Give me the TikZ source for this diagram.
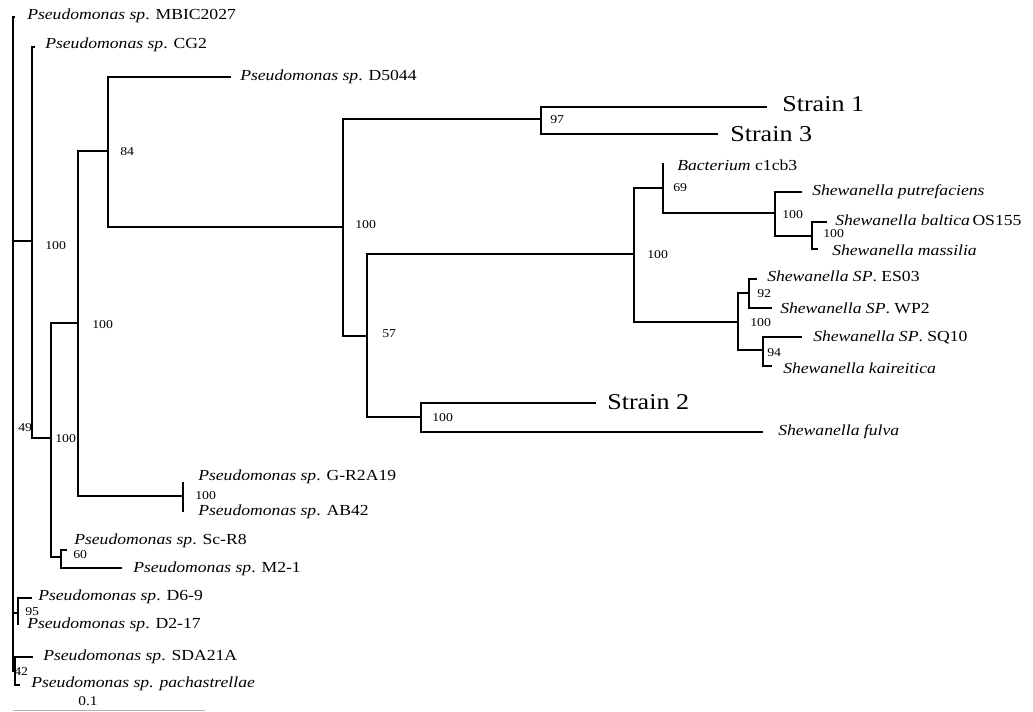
\documentclass[tikz,border=0pt]{standalone}
\usepackage{fontspec}
\usepackage{tikz}
\usetikzlibrary{positioning}
\newfontfamily\treefont[FakeStretch=1.15]{Liberation Serif}

\tikzset{
branch/.style={line width=0.9pt},
leaf/.style={anchor=west,inner sep=0pt,font=\treefont\fontsize{11.5}{12}\selectfont},
strain/.style={anchor=west,inner sep=0pt,font=\treefont\fontsize{17}{18}\selectfont},
boot/.style={anchor=west,inner sep=0pt,font=\treefont\fontsize{9}{10}\selectfont},
}

\begin{document}
\begin{tikzpicture}[x=0.75pt,y=-0.75pt]
\useasboundingbox[fill=white] (0,0) rectangle (1033,712);

% inner nodes
\coordinate (r) at (13,428);
\coordinate (nA) at (32,241);
\coordinate (nB) at (51,438);
\coordinate (nC) at (78,323);
\coordinate (nD) at (108,151);
\coordinate (nE) at (343,227);
\coordinate (nS) at (541,119);
\coordinate (nF) at (367,336);
\coordinate (nH) at (421,417);
\coordinate (nG) at (634,254);
\coordinate (nI) at (663,188);
\coordinate (nK) at (775,213);
\coordinate (nL) at (812,236);
\coordinate (nJ) at (738,322);
\coordinate (nM) at (749,293);
\coordinate (nN) at (763,350);
\coordinate (nGR) at (183,496);
\coordinate (nSc) at (61,557);
\coordinate (nDD) at (18,613);
\coordinate (nSD) at (15,671);

% leaf ends
\coordinate (lMBIC) at (15,17);
\coordinate (lCG) at (35,47);
\coordinate (lD50) at (231,77);
\coordinate (lSt1) at (767,107);
\coordinate (lSt3) at (718,134);
\coordinate (lBac) at (663,163);
\coordinate (lPut) at (802,192);
\coordinate (lBal) at (827,222);
\coordinate (lMas) at (818,249);
\coordinate (lES) at (757,279);
\coordinate (lWP) at (772,308);
\coordinate (lSQ) at (802,337);
\coordinate (lKai) at (772,366);
\coordinate (lSt2) at (596,403);
\coordinate (lFul) at (763,432);
\coordinate (lGR) at (183,482);
\coordinate (lAB) at (183,512);
\coordinate (lSc) at (67,550);
\coordinate (lM2) at (122,568);
\coordinate (lD69) at (32,598);
\coordinate (lD217) at (18,625);
\coordinate (lSDA) at (33,657);
\coordinate (lPac) at (20,685);

% branches
\draw[branch] (r) |- (lMBIC);
\draw[branch] (r) |- (nA);
\draw[branch,line width=1.6pt] (r |- nA) -- (r |- nSD);
\draw[branch] (r) |- (nDD);
\draw[branch] (r) |- (nSD);
\draw[branch] (nA) |- (lCG);
\draw[branch] (nA) |- (nB);
\draw[branch] (nB) |- (nC);
\draw[branch] (nB) |- (nSc);
\draw[branch] (nC) |- (nD);
\draw[branch] (nC) |- (nGR);
\draw[branch] (nD) |- (lD50);
\draw[branch] (nD) |- (nE);
\draw[branch] (nE) |- (nS);
\draw[branch] (nE) |- (nF);
\draw[branch] (nS) |- (lSt1);
\draw[branch] (nS) |- (lSt3);
\draw[branch] (nF) |- (nG);
\draw[branch] (nF) |- (nH);
\draw[branch] (nH) |- (lSt2);
\draw[branch] (nH) |- (lFul);
\draw[branch] (nG) |- (nI);
\draw[branch] (nG) |- (nJ);
\draw[branch] (nI) |- (lBac);
\draw[branch] (nI) |- (nK);
\draw[branch] (nK) |- (lPut);
\draw[branch] (nK) |- (nL);
\draw[branch] (nL) |- (lBal);
\draw[branch] (nL) |- (lMas);
\draw[branch] (nJ) |- (nM);
\draw[branch] (nJ) |- (nN);
\draw[branch] (nM) |- (lES);
\draw[branch] (nM) |- (lWP);
\draw[branch] (nN) |- (lSQ);
\draw[branch] (nN) |- (lKai);
\draw[branch] (nGR) |- (lGR);
\draw[branch] (nGR) |- (lAB);
\draw[branch] (nSc) |- (lSc);
\draw[branch] (nSc) |- (lM2);
\draw[branch] (nDD) |- (lD69);
\draw[branch] (nDD) |- (lD217);
\draw[branch] (nSD) |- (lSDA);
\draw[branch] (nSD) |- (lPac);

% taxa
\node[leaf] (tMBIC) at (27,16) {\textit{Pseudomonas sp}. MBIC2027};
\node[leaf] (tCG) at (45,45) {\textit{Pseudomonas sp}. CG2};
\node[leaf] (tD50) at (240,77) {\textit{Pseudomonas sp}. D5044};
\node[strain] (tSt1) at (782,104) {Strain 1};
\node[strain] (tSt3) at (730,134) {Strain 3};
\node[leaf] (tBac) at (677,165) {\textit{Bacterium} c1cb3};
\node[leaf] (tPut) at (812,192) {\textit{Shewanella putrefaciens}};
\node[leaf] (tBal) at (835,220) {\textit{Shewanella baltica}\,OS155};
\node[leaf] (tMas) at (832,250) {\textit{Shewanella massilia}};
\node[leaf] (tES) at (767,276) {\textit{Shewanella SP}. ES03};
\node[leaf] (tWP) at (780,308) {\textit{Shewanella SP}. WP2};
\node[leaf] (tSQ) at (813,337) {\textit{Shewanella SP}. SQ10};
\node[leaf] (tKai) at (783,368) {\textit{Shewanella kaireitica}};
\node[strain] (tSt2) at (607,402) {Strain 2};
\node[leaf] (tFul) at (778,432) {\textit{Shewanella fulva}};
\node[leaf] (tGR) at (198,477) {\textit{Pseudomonas sp}. G-R2A19};
\node[leaf] (tAB) at (198,512) {\textit{Pseudomonas sp}. AB42};
\node[leaf] (tSc) at (74,541) {\textit{Pseudomonas sp}. Sc-R8};
\node[leaf] (tM2) at (133,569) {\textit{Pseudomonas sp}. M2-1};
\node[leaf] (tD69) at (38,597) {\textit{Pseudomonas sp}. D6-9};
\node[leaf] (tD217) at (27,625) {\textit{Pseudomonas sp}. D2-17};
\node[leaf] (tSDA) at (43,657) {\textit{Pseudomonas sp}. SDA21A};
\node[leaf] (tPac) at (31,684) {\textit{Pseudomonas sp. pachastrellae}};

% bootstrap values
\node[boot] (b49) at (18,428) {49};
\node[boot] (bA) at (45,246) {100};
\node[boot] (bB) at (55,439) {100};
\node[boot] (bC) at (92,325) {100};
\node[boot] (b84) at (120,152) {84};
\node[boot] (bE) at (355,225) {100};
\node[boot] (b97) at (550,120) {97};
\node[boot] (b57) at (382,334) {57};
\node[boot] (bG) at (647,255) {100};
\node[boot] (bH) at (432,418) {100};
\node[boot] (b69) at (673,188) {69};
\node[boot] (bK) at (782,215) {100};
\node[boot] (bL) at (823,234) {100};
\node[boot] (b92) at (757,294) {92};
\node[boot] (bJ) at (750,323) {100};
\node[boot] (b94) at (767,353) {94};
\node[boot] (bGR) at (195,496) {100};
\node[boot] (b60) at (73,555) {60};
\node[boot] (b95) at (25,612) {95};
\node[boot] (b42) at (14,672) {42};

% scale bar
\coordinate (sb1) at (13,710);
\coordinate (sb2) at (205,710);
\draw[gray!60,line width=0.6pt] (sb1) -- (sb2);
\node[boot,anchor=center,font=\treefont\fontsize{10}{11}\selectfont] (sbl) at (88,701) {0.1};
\end{tikzpicture}
\end{document}
